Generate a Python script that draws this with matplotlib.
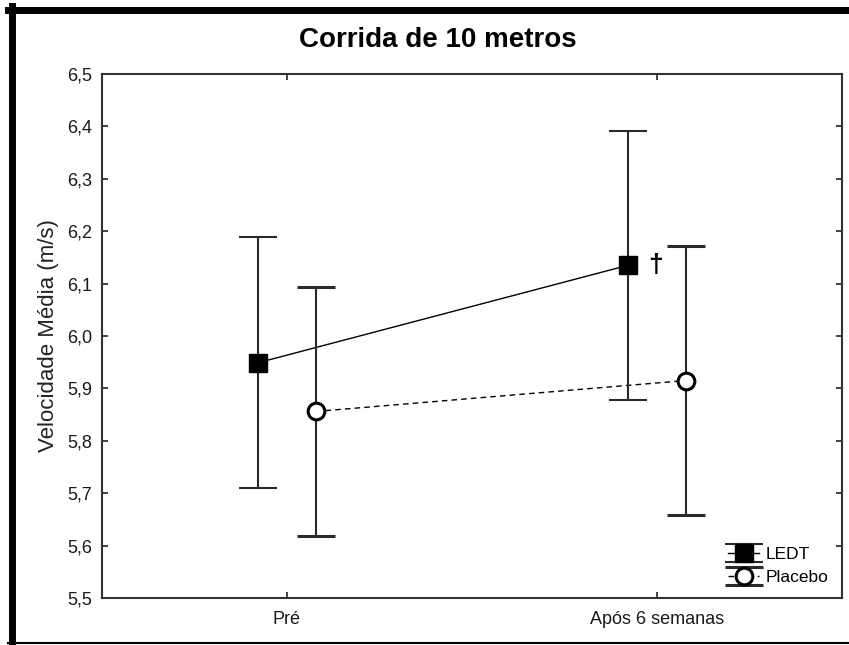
import numpy as np
import matplotlib
matplotlib.use("Agg")
import matplotlib.pyplot as plt
from matplotlib.lines import Line2D

plt.rcParams['font.family'] = ['Liberation Sans', 'DejaVu Sans']

momentos = ["Pré", "Após 6 semanas"]
ledt_media = [5.949, 6.135]
ledt_erro = [0.239, 0.257]
placebo_media = [5.856, 5.915]
placebo_erro = [0.238, 0.257]
y_ticks = [5.5, 5.6, 5.7, 5.8, 5.9, 6.0, 6.1, 6.2, 6.3, 6.4, 6.5]

fig = plt.figure(figsize=(8.49, 6.45), dpi=100)
ax = fig.add_axes([102 / 849, 1 - 598 / 645, 740 / 849, 524 / 645])

x = np.arange(len(momentos))
desloc = 0.078

l1, = ax.plot(x - desloc, ledt_media, color='black', lw=1.0, zorder=2)
l2, = ax.plot(x + desloc, placebo_media, color='black', lw=1.0, ls=(0, (4, 3)), zorder=2)

e1 = ax.errorbar(x - desloc, ledt_media, yerr=ledt_erro, fmt='s', color='#2a2a2a',
                 ecolor='#2a2a2a', elinewidth=1.5, capsize=14, capthick=1.5,
                 markersize=13, markerfacecolor='black', markeredgecolor='black',
                 zorder=3)
e2 = ax.errorbar(x + desloc, placebo_media, yerr=placebo_erro, fmt='o', color='#2a2a2a',
                 ecolor='#2a2a2a', elinewidth=1.5, capsize=14, capthick=1.5,
                 markersize=12, markerfacecolor='white', markeredgecolor='black',
                 markeredgewidth=2.2, zorder=3)

# sinal de diferença
ax.annotate("†", xy=(x[1] - desloc, ledt_media[1]), xytext=(20, 0),
            textcoords='offset points', ha='center', va='center',
            fontsize=19, fontweight='bold', color='black')

# legenda
leg = ax.legend([(l1, e1), (l2, e2)], ["LEDT", "Placebo"], loc='lower right',
                frameon=False, fontsize=12.5, handlelength=1.8, handletextpad=0.4,
                labelspacing=0.45, borderaxespad=0.35)

ax.set_xlim(-0.5, 1.5)
ax.set_ylim(5.5, 6.5)
ax.set_xticks(x)
ax.set_xticklabels(momentos, fontsize=13, color='#1a1a1a')
ax.set_yticks(y_ticks)
ax.set_yticklabels([f"{v:.1f}".replace('.', ',') for v in y_ticks], fontsize=13,
                   color='#1a1a1a')
ax.tick_params(direction='in', length=4, width=1.2, top=True, right=True, color='#222222')
ax.tick_params(axis='x', pad=9)
ax.tick_params(axis='y', pad=7)
for s in ax.spines.values():
    s.set_linewidth(1.5)
    s.set_color('#333333')

ax.set_ylabel("Velocidade Média (m/s)", fontsize=16, color='#222222', labelpad=6)
fig.text(438 / 849, 1 - 40 / 645, "Corrida de 10 metros", ha='center', va='center',
         fontsize=20, fontweight='bold')

# moldura
fig.add_artist(Line2D([8 / 849, 1], [1 - 9.5 / 645, 1 - 9.5 / 645], color='black', lw=5,
                      transform=fig.transFigure))
fig.add_artist(Line2D([11.5 / 849, 11.5 / 849], [0, 1 - 6 / 645], color='black', lw=5,
                      transform=fig.transFigure))
fig.add_artist(Line2D([8 / 849, 1], [1 - 643 / 645, 1 - 643 / 645], color='black', lw=1.5,
                      transform=fig.transFigure))

fig.savefig("out.png", dpi=100)
